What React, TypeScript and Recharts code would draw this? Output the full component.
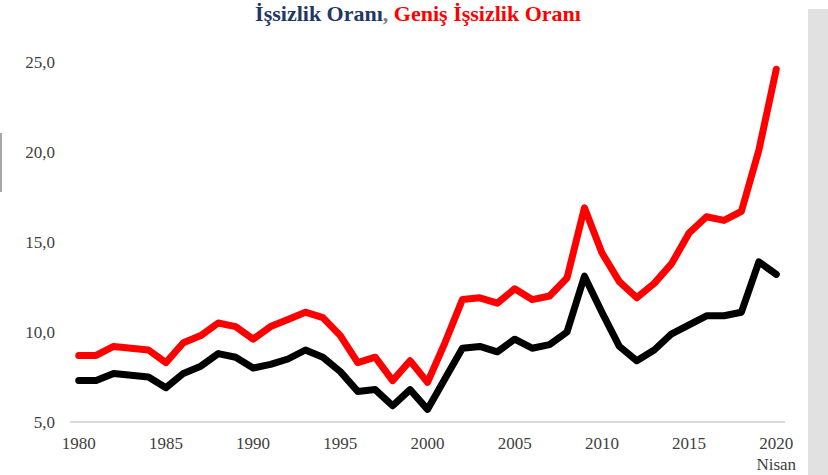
import { LineChart, Line, XAxis, YAxis } from 'recharts'

const years = [
  1980, 1981, 1982, 1983, 1984, 1985, 1986, 1987, 1988, 1989,
  1990, 1991, 1992, 1993, 1994, 1995, 1996, 1997, 1998, 1999,
  2000, 2001, 2002, 2003, 2004, 2005, 2006, 2007, 2008, 2009,
  2010, 2011, 2012, 2013, 2014, 2015, 2016, 2017, 2018, 2019, 2020,
]

// İşsizlik Oranı
const unemployment = [
  7.3, 7.3, 7.7, 7.6, 7.5, 6.9, 7.7, 8.1, 8.8, 8.6,
  8.0, 8.2, 8.5, 9.0, 8.6, 7.8, 6.7, 6.8, 5.9, 6.8,
  5.7, 7.4, 9.1, 9.2, 8.9, 9.6, 9.1, 9.3, 10.0, 13.1,
  11.1, 9.2, 8.4, 9.0, 9.9, 10.4, 10.9, 10.9, 11.1, 13.9, 13.2,
]

// Geniş İşsizlik Oranı
const broadUnemployment = [
  8.7, 8.7, 9.2, 9.1, 9.0, 8.3, 9.4, 9.8, 10.5, 10.3,
  9.6, 10.3, 10.7, 11.1, 10.8, 9.8, 8.3, 8.6, 7.3, 8.4,
  7.2, 9.4, 11.8, 11.9, 11.6, 12.4, 11.8, 12.0, 13.0, 16.9,
  14.4, 12.8, 11.9, 12.7, 13.8, 15.5, 16.4, 16.2, 16.7, 20.1, 24.6,
]

const yTicks = [5, 10, 15, 20, 25]
const xTicks = [1980, 1985, 1990, 1995, 2000, 2005, 2010, 2015, 2020]

const data = years.map((y, i) => ({
  year: y,
  issizlik: unemployment[i],
  genis: broadUnemployment[i],
}))

const font = '"Liberation Serif", "Times New Roman", serif'
const textColor = '#404040'

function XTick(props: any) {
  const { x, y, payload } = props
  return (
    <g>
      <text x={x} y={y} dy={12} textAnchor="middle" fontFamily={font} fontSize={17} fill={textColor}>
        {payload.value}
      </text>
      {payload.value === 2020 && (
        <text x={x} y={y} dy={33} textAnchor="middle" fontFamily={font} fontSize={17} fill={textColor}>
          Nisan
        </text>
      )}
    </g>
  )
}

export default function App() {
  return (
    <div style={{ position: 'absolute', left: 0, top: 0, width: 828, height: 475, background: '#fff', overflow: 'hidden' }}>
      <div style={{ position: 'absolute', left: 808, top: 9, width: 20, height: 466, background: '#e1e1e1' }} />
      <div style={{ position: 'absolute', left: 0, top: 133, width: 2, height: 59, background: '#a6a6a6' }} />
      <div
        style={{
          position: 'absolute', left: 0, top: 0, width: 836, textAlign: 'center',
          fontFamily: font, fontWeight: 'bold', fontSize: 22, lineHeight: '28px',
        }}
      >
        <span style={{ color: '#1f3864' }}>İşsizlik Oranı</span>
        <span style={{ color: '#7f7f7f' }}>, </span>
        <span style={{ color: '#ff0000' }}>Geniş İşsizlik Oranı</span>
      </div>
      <div style={{ position: 'absolute', left: 0, top: 0 }}>
        <LineChart width={828} height={475} data={data} margin={{ top: 62, right: 43, bottom: 0, left: 10 }}>
          <XAxis
            dataKey="year"
            type="number"
            domain={[1979.5, 2020.5]}
            ticks={xTicks}
            interval={0}
            tickLine={false}
            axisLine={{ stroke: '#d9d9d9', strokeWidth: 2 }}
            tickSize={0}
            tickMargin={15}
            tick={<XTick />}
            height={53}
          />
          <YAxis
            domain={[5, 25]}
            ticks={yTicks}
            width={60}
            tickLine={false}
            axisLine={false}
            tickSize={0}
            tickMargin={15}
            tickFormatter={(v: number) => v.toFixed(1).replace('.', ',')}
            tick={{ fontFamily: font, fontSize: 17, fill: textColor }}
          />
          <Line
            dataKey="genis"
            type="linear"
            stroke="#ff0000"
            strokeWidth={7}
            strokeLinecap="round"
            strokeLinejoin="round"
            dot={false}
            isAnimationActive={false}
          />
          <Line
            dataKey="issizlik"
            type="linear"
            stroke="#000000"
            strokeWidth={7}
            strokeLinecap="round"
            strokeLinejoin="round"
            dot={false}
            isAnimationActive={false}
          />
        </LineChart>
      </div>
    </div>
  )
}
